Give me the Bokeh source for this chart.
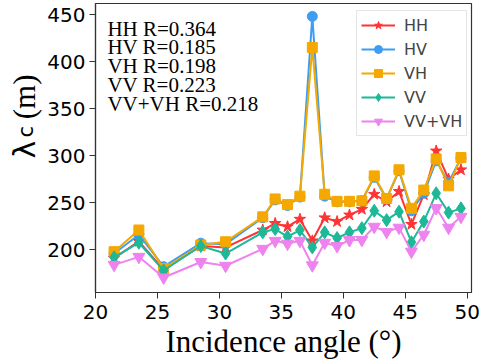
import numpy as np
from bokeh.plotting import figure
from bokeh.models import Range1d, FixedTicker, Label, Legend, LegendItem
from bokeh.layouts import row
from bokeh.embed import file_html
from bokeh.resources import INLINE

# ---- data ----
angles = [21.5, 23.5, 25.5, 28.5, 30.5, 33.5, 34.5, 35.5, 36.5, 37.5, 38.5,
          39.5, 40.5, 41.5, 42.5, 43.5, 44.5, 45.5, 46.5, 47.5, 48.5, 49.5]
hh = [191, 209, 179, 204, 202.5, 221, 228, 224.5, 232.5, 209.5, 234,
      230, 237, 243, 259, 251, 262, 227, 258.5, 305, 275, 285]
hv = [196, 216, 182, 207, 206, 234, 253, 247, 256, 448, 257,
      251, 251, 252, 277, 254, 284, 241.5, 260, 294.5, 271.5, 297.5]
vh = [198, 221, 180, 205, 208.5, 235, 254, 248, 257, 415, 259,
      251.5, 251.5, 252, 278.5, 254.5, 285, 244, 263.5, 296.5, 268, 298]
vv = [192, 207.5, 178, 204, 196, 218.5, 222, 214, 221, 202.5, 218.5,
      212.5, 218.5, 223, 241.5, 231.5, 240.5, 208, 230, 260, 239.5, 244]
vvvh = [184, 192.5, 170.5, 187, 183, 201, 209.5, 206.5, 209.5, 183.5, 207.5,
        204, 210.3, 210.5, 224.5, 219, 223.5, 198, 216, 244.3, 223.5, 235]

series_names = ["HH", "HV", "VH", "VV", "VV+VH"]
r_values = ["0.364", "0.185", "0.198", "0.223", "0.218"]
x_ticks = [20, 25, 30, 35, 40, 45, 50]
y_ticks = [200, 250, 300, 350, 400, 450]
x_title = "Incidence angle (°)"

# ---- layout sizes (page pixels) ----
PAGE_W, PAGE_H = 483, 362
YLAB_W = 44            # left strip holding the y-axis title
MAIN_W = PAGE_W - YLAB_W
MAIN_H = PAGE_H
L, R, T, B = 92 - YLAB_W, 12, 3, MAIN_H - 292
X0, X1 = 20, 50.35
Y0, Y1 = 154.6, 461.7
FW, FH = MAIN_W - L - R, MAIN_H - T - B
TXT_SHIFT = 8   # bokeh draws alphabetic-baseline labels about this much lower


def px_x(px):
    return X0 + (px - YLAB_W - L) / FW * (X1 - X0)


def px_y(py):
    return Y1 - (py - T) / FH * (Y1 - Y0)


p = figure(width=MAIN_W, height=MAIN_H, output_backend="svg",
           toolbar_location=None, title=None,
           x_range=Range1d(X0, X1), y_range=Range1d(Y0, Y1),
           min_border_left=L, min_border_right=R, min_border_top=T,
           min_border_bottom=B)
p.background_fill_color = "white"
p.border_fill_color = "white"
p.grid.visible = False
p.outline_line_color = "#333333"
p.outline_line_width = 1.2

for ax in (p.xaxis[0], p.yaxis[0]):
    ax.axis_line_color = "#333333"
    ax.axis_line_width = 1.2
    ax.major_tick_line_color = "#333333"
    ax.major_tick_in = 0
    ax.major_tick_out = 6
    ax.minor_tick_line_color = None
    ax.major_label_text_font = "DejaVu Sans"
    ax.major_label_text_font_size = "20px"
    ax.major_label_text_color = "black"
p.yaxis[0].axis_label = None
p.xaxis[0].axis_label = x_title
p.xaxis[0].axis_label_text_font = "Liberation Serif"
p.xaxis[0].axis_label_text_font_size = "31px"
p.xaxis[0].axis_label_text_font_style = "normal"
p.xaxis[0].axis_label_text_color = "black"
p.xaxis[0].axis_label_standoff = 2
p.xaxis[0].ticker = FixedTicker(ticks=x_ticks)
p.yaxis[0].ticker = FixedTicker(ticks=y_ticks)
p.xaxis[0].major_label_standoff = 6
p.yaxis[0].major_label_standoff = 4

colors = ["#ff3333", "#3d9df3", "#f5a800", "#1cb897", "#ee82ee"]
markers = ["star", "circle", "square", "diamond", "inverted_triangle"]
sizes = [12, 10, 10, 13, 12]
data = [hh, hv, vh, vv, vvvh]

items = []
for name, ys, c, m, s in zip(series_names, data, colors, markers, sizes):
    ln = p.line(angles, ys, line_color=c, line_width=2)
    sc = p.scatter(angles, ys, marker=m, size=s, fill_color=c, line_color=c)
    items.append(LegendItem(label=name, renderers=[ln, sc]))

legend = Legend(items=items, location=(261, 156))
legend.label_text_font = "DejaVu Sans"
legend.label_text_font_size = "16px"
legend.glyph_width = 34
legend.glyph_height = 20
legend.label_height = 20
legend.spacing = 4
legend.padding = 4
legend.margin = 0
legend.label_standoff = 9
legend.border_line_color = "#cccccc"
legend.border_line_width = 1
legend.background_fill_alpha = 0.85
p.add_layout(legend, "center")

# R-value text block
for i, (name, rv) in enumerate(zip(series_names, r_values)):
    p.add_layout(Label(x=px_x(104), y=px_y(28 + i * 18.75),
                       text=f"{name} R={rv}", text_font="Liberation Serif",
                       text_font_size="21px", text_color="black",
                       text_align="left", text_baseline="alphabetic"))

# ---- y-axis title strip: λ with subscript c, then (m) ----
yfig = figure(width=YLAB_W, height=MAIN_H, output_backend="svg",
              toolbar_location=None, title=None,
              x_range=Range1d(0, YLAB_W), y_range=Range1d(0, MAIN_H),
              min_border=0)
yfig.axis.visible = False
yfig.grid.visible = False
yfig.outline_line_color = None
yfig.border_fill_color = "white"
yfig.add_layout(Label(x=32 - TXT_SHIFT, y=MAIN_H - 194, text="λ",
                      angle=np.pi / 2, text_font="DejaVu Sans",
                      text_font_size="30px", text_color="black",
                      text_align="left", text_baseline="alphabetic"))
yfig.add_layout(Label(x=33 - TXT_SHIFT, y=MAIN_H - 168, text="c",
                      angle=np.pi / 2, text_font="DejaVu Sans",
                      text_font_size="21px", text_color="black",
                      text_align="left", text_baseline="alphabetic"))
yfig.add_layout(Label(x=32 - TXT_SHIFT, y=MAIN_H - 145, text="(m)",
                      angle=np.pi / 2, text_font="Liberation Serif",
                      text_font_size="31px", text_color="black",
                      text_align="left", text_baseline="alphabetic"))

layout = row(yfig, p, spacing=0)
open("out.html", "w").write(file_html(layout, INLINE))
